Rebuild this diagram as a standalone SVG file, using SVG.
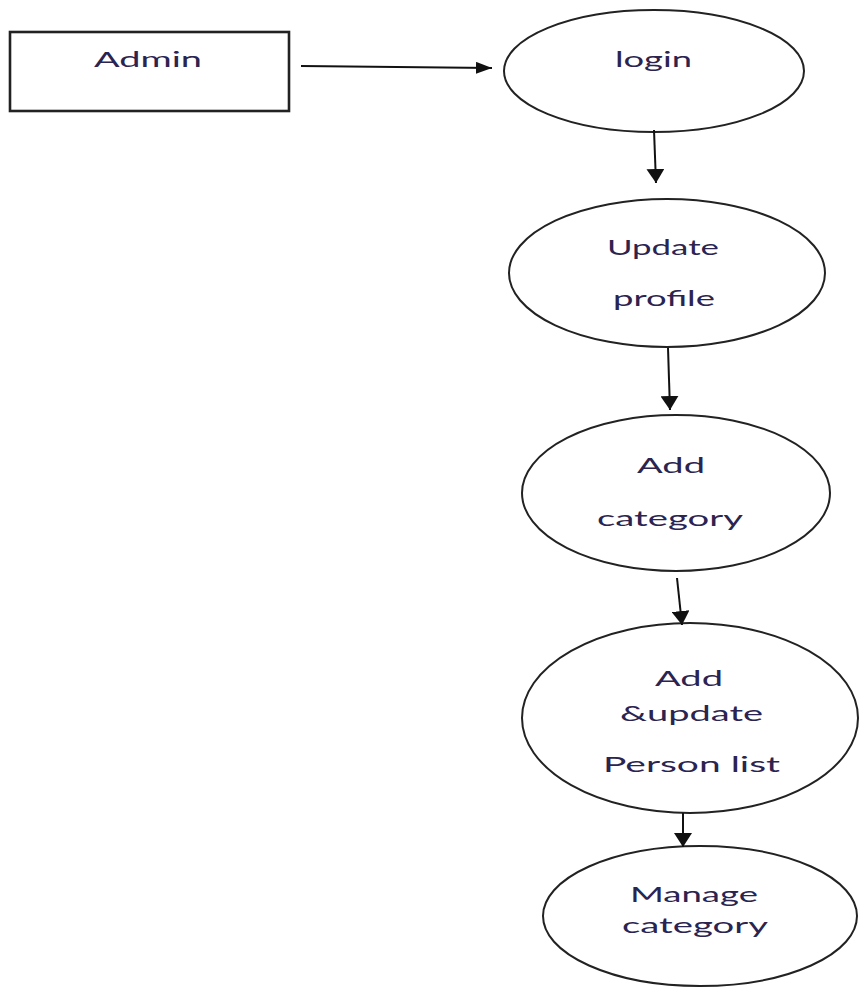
<svg xmlns="http://www.w3.org/2000/svg" width="860" height="987" viewBox="0 0 860 987">
<style>
.shape{fill:#fff;stroke:#222;stroke-width:2}
.box{fill:#fff;stroke:#222;stroke-width:2.6}
.lbl{font-family:Lato,"Open Sans","DejaVu Sans",sans-serif;font-size:22px;fill:#2b2450}
.conn{stroke:#111;stroke-width:2;fill:none}
.v{marker-end:url(#ahv)}
.h{marker-end:url(#ahh)}
</style>
<defs>
<marker id="ahv" viewBox="0 0 14 18" refX="14" refY="9" markerWidth="14" markerHeight="18" markerUnits="userSpaceOnUse" orient="auto">
<path d="M0,0 L14,9 L0,18 z" fill="#111"/>
</marker>
<marker id="ahh" viewBox="0 0 16 12" refX="16" refY="6" markerWidth="16" markerHeight="12" markerUnits="userSpaceOnUse" orient="auto">
<path d="M0,0 L16,6 L0,12 z" fill="#111"/>
</marker>
</defs>
<rect width="860" height="987" fill="#fff"/>
<g id="admin">
<rect class="box" x="10" y="32" width="279" height="79"/>
<text class="lbl" x="94" y="67" textLength="108" lengthAdjust="spacingAndGlyphs">Admin</text>
</g>
<g id="login">
<ellipse class="shape" cx="654" cy="71" rx="150" ry="61"/>
<text class="lbl" x="615" y="67" textLength="77" lengthAdjust="spacingAndGlyphs">login</text>
</g>
<g id="update-profile">
<ellipse class="shape" cx="667" cy="273" rx="158" ry="74"/>
<text class="lbl" x="607" y="255" textLength="112" lengthAdjust="spacingAndGlyphs">Update</text>
<text class="lbl" x="613" y="306" textLength="102" lengthAdjust="spacingAndGlyphs">profile</text>
</g>
<g id="add-category">
<ellipse class="shape" cx="676" cy="493" rx="154" ry="78"/>
<text class="lbl" x="637" y="473" textLength="68" lengthAdjust="spacingAndGlyphs">Add</text>
<text class="lbl" x="597" y="526" textLength="146" lengthAdjust="spacingAndGlyphs">category</text>
</g>
<g id="add-update-person">
<ellipse class="shape" cx="690" cy="718" rx="168" ry="95"/>
<text class="lbl" x="655" y="686" textLength="68" lengthAdjust="spacingAndGlyphs">Add</text>
<text class="lbl" x="620" y="721" textLength="143" lengthAdjust="spacingAndGlyphs">&amp;update</text>
<text class="lbl" x="603" y="772" textLength="177" lengthAdjust="spacingAndGlyphs">Person list</text>
</g>
<g id="manage-category">
<ellipse class="shape" cx="700" cy="916" rx="157" ry="70"/>
<text class="lbl" x="630" y="902" textLength="128" lengthAdjust="spacingAndGlyphs">Manage</text>
<text class="lbl" x="622" y="933" textLength="146" lengthAdjust="spacingAndGlyphs">category</text>
</g>
<g id="connectors">
<path class="conn h" d="M301,66 L492,68"/>
<path class="conn v" d="M654,130 L656,183"/>
<path class="conn v" d="M668,348 L670,410"/>
<path class="conn v" d="M677,578 L682,625"/>
<path class="conn v" d="M683,813 L683,847"/>
</g>
</svg>
